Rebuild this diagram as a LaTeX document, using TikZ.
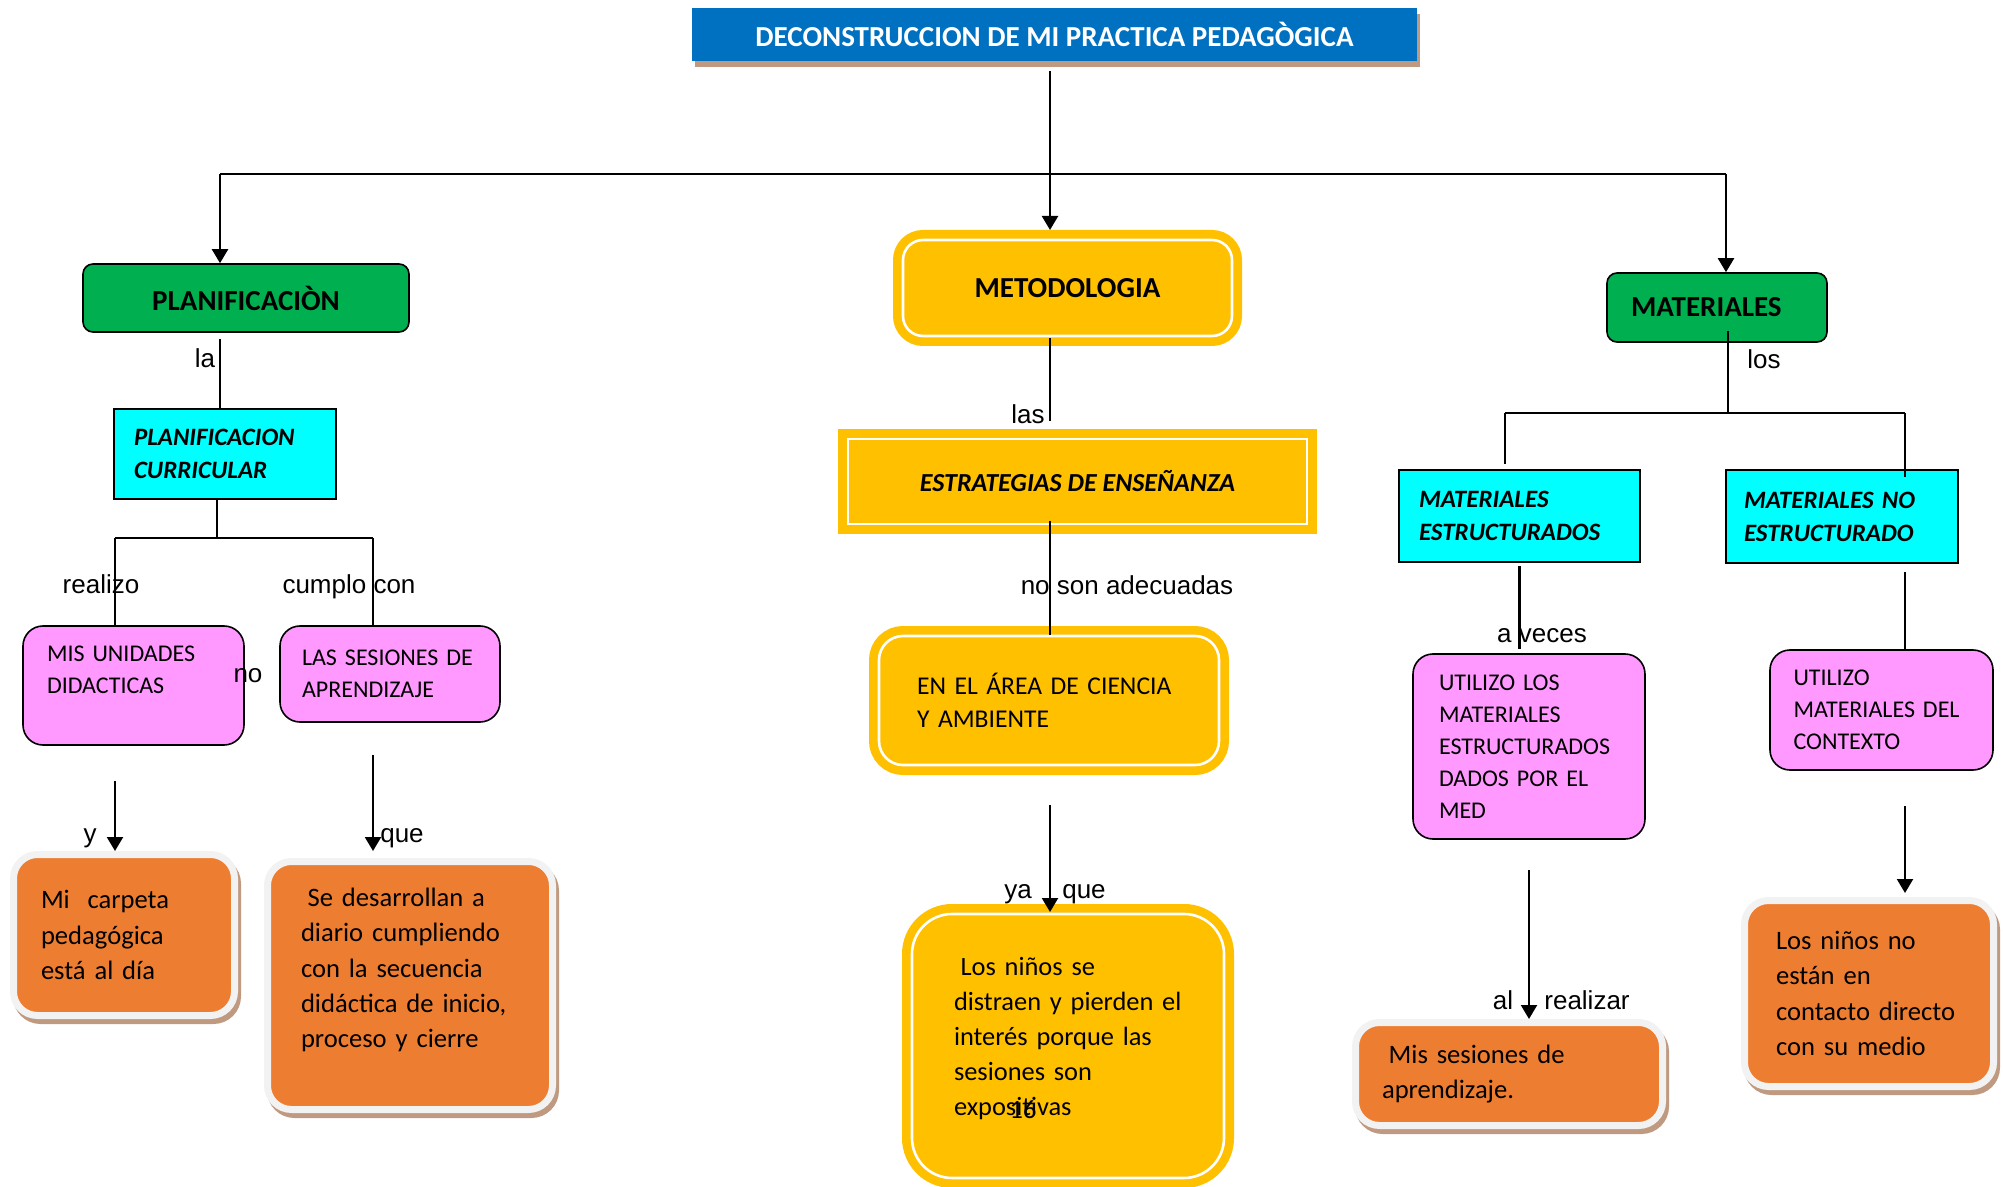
\documentclass[tikz,border=0pt]{standalone}
\usepackage{fontspec}
\setmainfont{Carlito}
\newfontfamily\arialf{Liberation Sans}
\usetikzlibrary{arrows.meta,shadows}
\definecolor{azul}{HTML}{0070C0}
\definecolor{verde}{HTML}{00B050}
\definecolor{celeste}{HTML}{00FFFF}
\definecolor{rosa}{HTML}{FF99FF}
\definecolor{oro}{HTML}{FFC000}
\definecolor{naranja}{HTML}{ED7D31}
\definecolor{borde}{HTML}{F2F2F2}
\definecolor{sombra}{HTML}{C09A80}
\tikzset{
    lbl/.style={font=\arialf\fontsize{13}{15}\selectfont,inner sep=0pt,text height=9.5pt,text depth=0pt},
    verdebox/.style={draw,line width=.8pt,fill=verde,rounded corners=5pt,inner sep=0pt,font=\bfseries\fontsize{14.5}{17}\selectfont},
    celestebox/.style={draw,line width=.8pt,fill=celeste,inner sep=0pt,align=left,font=\bfseries\itshape\fontsize{12.5}{16.5}\selectfont},
    rosabox/.style={draw,line width=.8pt,fill=rosa,rounded corners=10pt,inner sep=0pt,align=left,font=\fontsize{12}{16}\selectfont},
    orobox/.style={draw=oro,line width=10pt,fill=oro,postaction={draw=white,line width=1.3pt},inner sep=0pt},
    naranjabox/.style={draw=borde,line width=3.5pt,fill=naranja,rounded corners=12pt,inner sep=0pt,align=left,
        font=\fontsize{13.3}{17.6}\selectfont,
        drop shadow={shadow xshift=1.5pt,shadow yshift=-2.5pt,fill=sombra,draw=sombra,opacity=1}},
}
\begin{document}
\begin{tikzpicture}[x=.5pt,y=-.5pt,>={Triangle[length=7pt,width=8pt]},line width=1.1pt]
    \useasboundingbox (0,0) rectangle (2003,1187);
    % titulo
    \node[fill=azul,minimum width=362.5pt,minimum height=26.5pt,text=white,font=\bfseries\fontsize{14.5}{17}\selectfont,
        drop shadow={shadow xshift=1.5pt,shadow yshift=-3pt,fill=sombra,opacity=1}] (tit) at (1054.5,34.5) {DECONSTRUCCION DE MI PRACTICA PEDAGÒGICA};
    % planificacion
    \node[verdebox,minimum width=163pt,minimum height=34pt] (plan) at (246,298) {PLANIFICACIÒN};
    \node[celestebox,minimum width=111pt,minimum height=45pt,text width=91pt] (curr) at (225,454) {PLANIFICACION\\CURRICULAR};
    \node[rosabox,minimum width=110.5pt,minimum height=59.5pt,text width=86.5pt] (mis) at (133.5,685.5) {MIS UNIDADES\\DIDACTICAS\\\mbox{}};
    \node[rosabox,minimum width=110pt,minimum height=48pt,text width=88pt] (las) at (390,674) {LAS SESIONES DE\\APRENDIZAJE};
    \node[naranjabox,minimum width=110.5pt,minimum height=80.5pt,text width=83pt] (carp) at (124,935) {Mi\ \ carpeta\\pedagógica\\está al día};
    \node[naranjabox,minimum width=142.5pt,minimum height=124pt,text width=109pt] (sedes) at (410,985.5)
        {\hspace*{.25em}Se desarrollan a\\diario cumpliendo\\con la secuencia\\didáctica de inicio,\\proceso y cierre\\\mbox{}};
    % metodologia
    \node[orobox,rounded corners=10pt,minimum width=164.5pt,minimum height=48pt,font=\bfseries\fontsize{14.5}{17}\selectfont] (meto) at (1067.5,288) {METODOLOGIA};
    \node[orobox,minimum width=229.5pt,minimum height=42.5pt,font=\bfseries\itshape\fontsize{13}{16}\selectfont] (estr) at (1077.5,481.5) {ESTRATEGIAS DE ENSEÑANZA};
    \node[orobox,rounded corners=12pt,minimum width=170pt,minimum height=64.5pt,text width=132pt,align=left,font=\fontsize{12.8}{16.5}\selectfont] (enel) at (1049,700.5) {EN EL ÁREA DE CIENCIA\\Y AMBIENTE};
    \node[orobox,rounded corners=20pt,minimum width=156pt,minimum height=132pt,text width=114pt,align=left,font=\fontsize{13.2}{17.6}\selectfont] (ninos) at (1068,1046)
        {\hspace*{.25em}Los niños se\\distraen y pierden el\\interés porque las\\sesiones son\\expositivas\\[-8pt]\mbox{}};
    \node[font=\fontsize{13.2}{16}\selectfont] (pag) at (1023,1110) {16};
    % materiales
    \node[verdebox,minimum width=110pt,minimum height=34.5pt,text width=86pt,align=left] (mat) at (1717,307.5) {MATERIALES};
    \node[celestebox,minimum width=120.5pt,minimum height=46pt,text width=100.5pt] (mest) at (1519.5,516) {MATERIALES\\ESTRUCTURADOS};
    \node[celestebox,minimum width=116pt,minimum height=46.5pt,text width=98pt] (mno) at (1842,516.5) {MATERIALES NO\\ESTRUCTURADO};
    \node[rosabox,minimum width=116pt,minimum height=92.5pt,text width=90pt] (utilos) at (1529,746.5) {UTILIZO LOS\\MATERIALES\\ESTRUCTURADOS\\DADOS POR EL\\MED};
    \node[rosabox,minimum width=111.5pt,minimum height=60pt,text width=88pt] (utilctx) at (1881.5,710) {UTILIZO\\MATERIALES DEL\\CONTEXTO};
    \node[naranjabox,minimum width=153.5pt,minimum height=51.5pt,text width=127pt] (misses) at (1509,1074) {\hspace*{.25em}Mis sesiones de\\aprendizaje.};
    \node[naranjabox,minimum width=124.5pt,minimum height=93pt,text width=93pt] (lnno) at (1869,993.5) {Los niños no\\están en\\contacto directo\\con su medio};
    % conectores
    \coordinate (tl) at (220,174);
    \coordinate (tm) at (1050,174);
    \coordinate (tr) at (1726,174);
    \draw (tl)--(tr);
    \draw[->,shorten <=4.5pt] (tit.south -| tm)--(tm |- meto.north);
    \draw[->] (tl)--(tl |- plan.north);
    \draw[->] (tr)--(tr |- mat.north);
    \coordinate (pj) at (217,538);
    \coordinate (pl) at (115,538);
    \coordinate (pr) at (373,538);
    \draw[shorten <=3pt] (plan.south -| tl)--(tl |- curr.north);
    \draw (curr.south -| pj)--(pj);
    \draw (pl)--(pr);
    \draw (pl)--(pl |- mis.north);
    \draw (pr)--(pr |- las.north);
    \draw[->,shorten <=17.5pt] (mis.south -| pl)--(pl |- carp.north);
    \draw[->,shorten <=16pt,shorten >=3.5pt] (las.south -| pr)--(pr |- sedes.north);
    \draw[shorten <=-4pt,shorten >=4pt] (meto.south -| tm)--(tm |- estr.north);
    \draw[shorten <=-6.5pt,shorten >=-4.5pt] (estr.south -| tm)--(tm |- enel.north);
    \draw[->,shorten <=15pt,shorten >=-4pt] (enel.south -| tm)--(tm |- ninos.north);
    \coordinate (mj) at (1728,413);
    \coordinate (ml) at (1505,413);
    \coordinate (mr) at (1905,413);
    \draw[shorten <=-6pt] (mat.south -| mj)--(mj);
    \draw (ml)--(mr);
    \draw[shorten >=2.5pt] (ml)--(ml |- mest.north);
    \draw[shorten >=-4pt] (mr)--(mr |- mno.north);
    \draw[shorten <=1.5pt,shorten >=2pt] (mest.south)--(mest.south |- utilos.north);
    \draw[shorten <=4pt] (mno.south -| mr)--(mr |- utilctx.north);
    \draw[->,shorten <=15pt] (utilos.south)--(utilos.south |- misses.north);
    \draw[->,shorten <=17.5pt,shorten >=2pt] (utilctx.south -| mr)--(mr |- lnno.north);
    % etiquetas
    \foreach \p/\t [count=\k] in {{205,358.5}/la,{101,583.5}/realizo,{349,583.5}/cumplo con,{248,672.5}/no,
        {90,832.5}/y,{402,832.5}/que,{1028,414.5}/las,{1127,584.5}/no son adecuadas,{1018,888.5}/ya,
        {1084,888.5}/que,{1764,359.5}/los,{1542,633}/a veces,{1503,999.5}/al,{1587,999.5}/realizar}
        \node[lbl] (lab\k) at (\p) {\t};
\end{tikzpicture}
\end{document}
